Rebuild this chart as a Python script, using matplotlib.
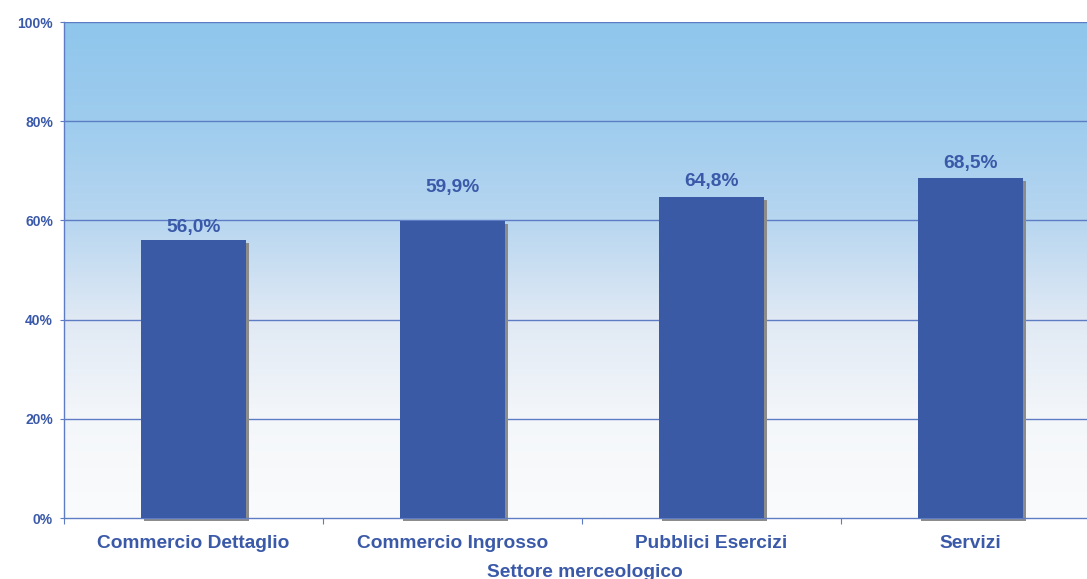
import numpy as np
import matplotlib
matplotlib.use("Agg")
import matplotlib.pyplot as plt
from matplotlib import font_manager as fm
from matplotlib.colors import LinearSegmentedColormap

categories = ["Commercio Dettaglio", "Commercio Ingrosso", "Pubblici Esercizi", "Servizi"]
values = [56.0, 59.9, 64.8, 68.5]
value_labels = ["56,0%", "59,9%", "64,8%", "68,5%"]
yticks = [0, 20, 40, 60, 80, 100]
ytick_labels = ["0%", "20%", "40%", "60%", "80%", "100%"]
x_title = "Settore merceologico"

# baseline offsets of the value labels above the bar tops (points)
label_offsets = [6.0, 21, 7.6, 7.7]

text_color = "#3A59A8"
bar_color = "#3A5AA5"
grid_color = "#5D7CC4"


def bold_font(size):
    for fam in ["Liberation Sans", "Roboto", "DejaVu Sans"]:
        for f in fm.fontManager.ttflist:
            if f.name == fam and f.weight in (700, "bold") and f.style == "normal":
                return fm.FontProperties(fname=f.fname, size=size)
    return fm.FontProperties(family="DejaVu Sans", weight="bold", size=size)


fp_tick = bold_font(10)
fp_big = bold_font(13.8)

fig = plt.figure(figsize=(10.87, 5.79), dpi=100)
ax = fig.add_axes([64 / 1087, 61 / 579, 1036 / 1087, 496 / 579])

# vertical background gradient
grad = LinearSegmentedColormap.from_list(
    "bg", ["#FAFBFC", "#F4F7FA", "#E0E9F4", "#B7D6F0", "#9ECCEE", "#8FC6EC"])
g = np.linspace(0, 1, 256).reshape(-1, 1)
ax.imshow(g, cmap=grad, aspect="auto", origin="lower",
          extent=[0, 4, 0, 100], zorder=0)

x = np.arange(len(categories)) + 0.5
w = 0.405
# drop shadow
ax.bar(x + 0.012, values, width=w, bottom=-0.6, color="#8C8C8C", zorder=2,
       clip_on=False)
ax.bar(x, values, width=w, color=bar_color, zorder=3)

for xi, v, lab, off in zip(x, values, value_labels, label_offsets):
    ax.annotate(lab, (xi, v), xytext=(0, off), textcoords="offset points",
                ha="center", va="baseline", fontproperties=fp_big,
                color=text_color, zorder=4)

ax.set_xlim(0, 4)
ax.set_ylim(0, 100)
for yv in yticks[1:]:
    ax.axhline(yv, color=grid_color, lw=1.0, zorder=1)

ax.set_yticks(yticks)
ax.set_yticklabels(ytick_labels, fontproperties=fp_tick, color=text_color)
ax.set_xticks([0, 1, 2, 3, 4])
ax.set_xticklabels([])
ax.set_xticks(x, minor=True)
ax.set_xticklabels(categories, minor=True, fontproperties=fp_big,
                   color=text_color)
ax.tick_params(axis="x", which="major", length=4, color=grid_color, direction="out")
ax.tick_params(axis="x", which="minor", length=0, pad=12)
ax.tick_params(axis="y", length=3, color=grid_color, pad=5)

for s in ["top", "right"]:
    ax.spines[s].set_visible(False)
for s in ["left", "bottom"]:
    ax.spines[s].set_color(grid_color)
    ax.spines[s].set_linewidth(1.0)

fig.text(585 / 1087, 2 / 579, x_title, ha="center", va="baseline",
         fontproperties=fp_big, color=text_color)

fig.savefig("out.png", dpi=100)
